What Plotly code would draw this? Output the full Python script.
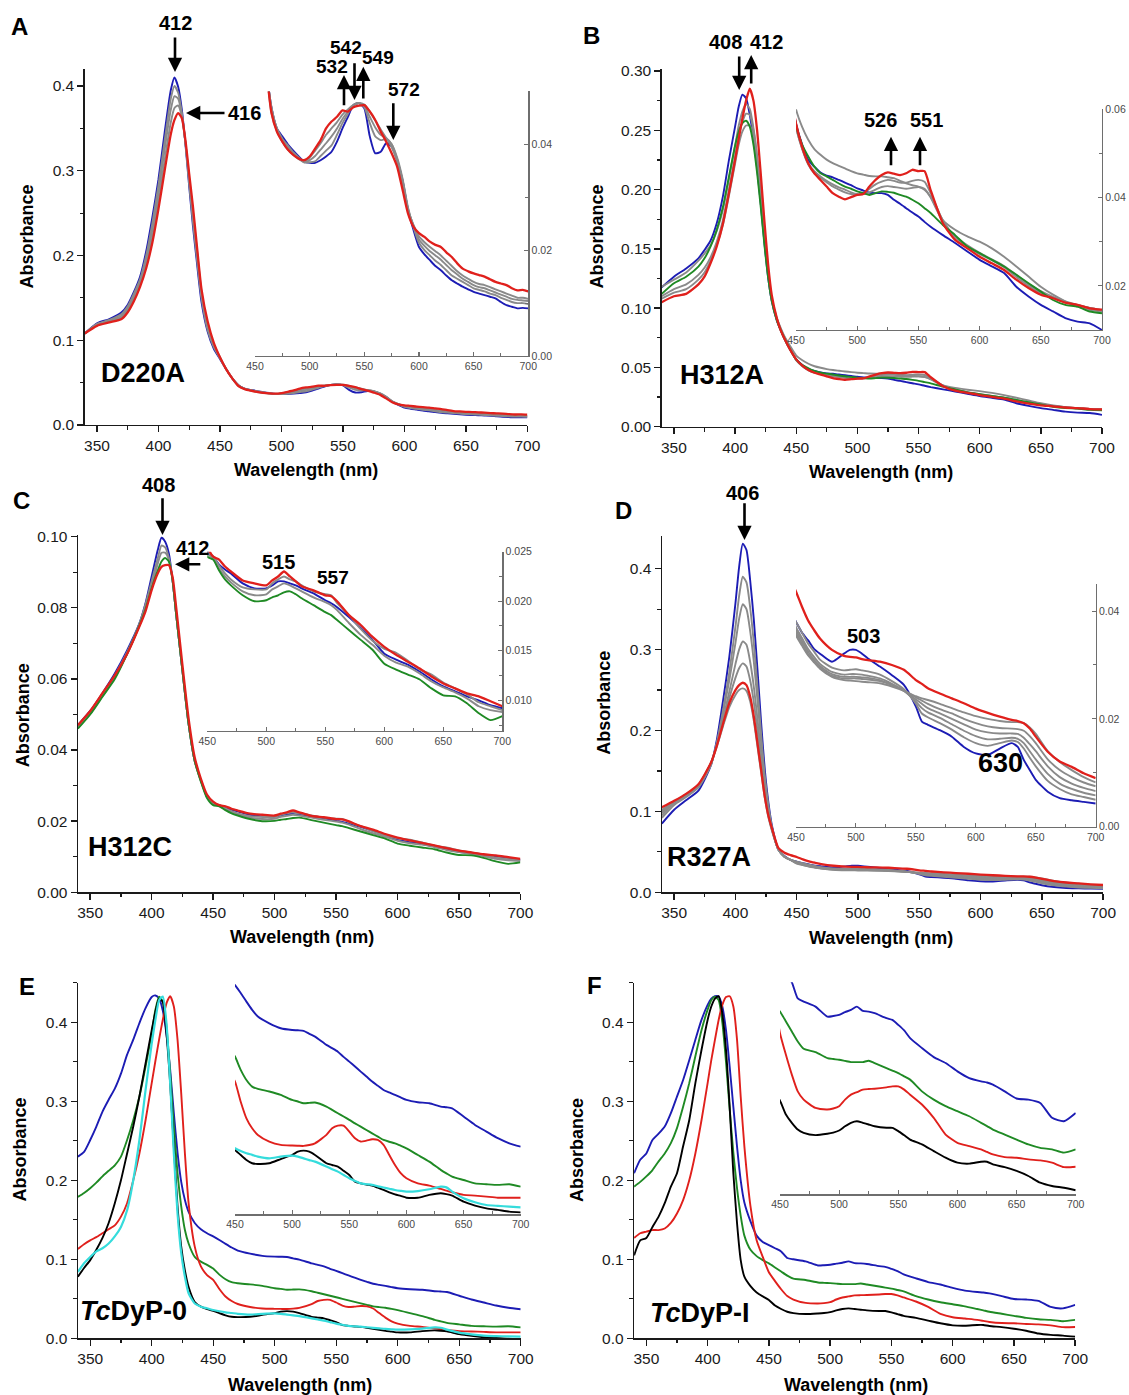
import plotly.graph_objects as go

W, H = 1129, 1395
FONT = "Liberation Sans, Arial, Helvetica, sans-serif"
BLUE = "#1c1cb4"
RED = "#e0201c"
GREY = "#8a8a8a"
GREEN = "#1f8a24"
CYAN = "#35dcdc"
BLACK = "#000000"

# ---------------- Panel A : D220A ----------------
A_WL = [340, 350, 360, 370, 375, 380, 385, 390, 395, 400, 405, 410, 413, 416, 419, 422, 425, 428, 431, 435, 440, 445, 450,
        455, 460, 465, 470, 475, 480, 485, 490, 495, 500, 505, 510, 515, 520, 525, 530, 535, 540, 545, 550,
        555, 560, 565, 570, 575, 580, 585, 590, 595, 600, 605, 610, 615, 620, 625, 630, 635, 640, 645, 650,
        655, 660, 665, 670, 675, 680, 685, 690, 695, 700]
A_BLUE = [0.108, 0.120, 0.125, 0.133, 0.142, 0.157, 0.175, 0.205, 0.245, 0.290, 0.345, 0.395, 0.410, 0.399, 0.372, 0.330, 0.281, 0.235, 0.195, 0.145, 0.110, 0.090, 0.078,
          0.066, 0.055, 0.047, 0.043, 0.0415, 0.040, 0.0388, 0.0377, 0.0367, 0.0365,
          0.0365, 0.037, 0.0377, 0.0386, 0.0405, 0.043, 0.0452, 0.0474, 0.0478, 0.0468,
          0.0415, 0.0383, 0.0386, 0.0402, 0.0396, 0.037, 0.0332, 0.0276, 0.0238, 0.0206,
          0.0192, 0.0181, 0.017, 0.0162, 0.0152, 0.0143, 0.0137, 0.0131, 0.0126, 0.0121,
          0.0118, 0.0115, 0.0112, 0.0109, 0.0102, 0.0096, 0.0093, 0.009, 0.0091, 0.009]
A_GREY1 = [0.108, 0.119, 0.124, 0.131, 0.140, 0.155, 0.172, 0.200, 0.238, 0.283, 0.335, 0.385, 0.400, 0.392, 0.368, 0.332, 0.285, 0.240, 0.200, 0.150, 0.112, 0.092, 0.079,
           0.066, 0.055, 0.047, 0.043, 0.041, 0.0398, 0.0385, 0.0375, 0.0366, 0.0366,
           0.0368, 0.0378, 0.0388, 0.0398, 0.0418, 0.044, 0.0458, 0.0474, 0.0478, 0.047,
           0.044, 0.0415, 0.0408, 0.041, 0.040, 0.0375, 0.0335, 0.028, 0.0243, 0.0214,
           0.020, 0.019, 0.018, 0.0172, 0.0162, 0.0152, 0.0146, 0.014, 0.0134, 0.0128,
           0.0125, 0.0122, 0.0118, 0.0115, 0.011, 0.0106, 0.0102, 0.010, 0.010, 0.0098]
A_GREY2 = [0.108, 0.119, 0.123, 0.129, 0.138, 0.152, 0.169, 0.195, 0.230, 0.274, 0.325, 0.372, 0.388, 0.385, 0.366, 0.332, 0.288, 0.246, 0.205, 0.153, 0.115, 0.093, 0.079,
           0.066, 0.055, 0.047, 0.043, 0.041, 0.0395, 0.0383, 0.0373, 0.0366, 0.037,
           0.0378, 0.039, 0.0402, 0.0415, 0.043, 0.0448, 0.0462, 0.0474, 0.0478, 0.0472,
           0.0452, 0.0432, 0.0418, 0.0412, 0.040, 0.0372, 0.033, 0.0278, 0.0246, 0.022,
           0.0208, 0.0198, 0.019, 0.0182, 0.0172, 0.0162, 0.0154, 0.0146, 0.014, 0.0134,
           0.013, 0.0128, 0.0124, 0.012, 0.0116, 0.0112, 0.0108, 0.0106, 0.0105, 0.0104]
A_GREY3 = [0.108, 0.118, 0.122, 0.127, 0.136, 0.149, 0.166, 0.190, 0.222, 0.265, 0.312, 0.357, 0.374, 0.377, 0.364, 0.332, 0.290, 0.252, 0.210, 0.157, 0.118, 0.095, 0.080,
           0.066, 0.055, 0.046, 0.0425, 0.0405, 0.039, 0.038, 0.0372, 0.0368, 0.0375,
           0.0388, 0.0402, 0.0418, 0.043, 0.0442, 0.0456, 0.0466, 0.0474, 0.0478, 0.0475,
           0.0462, 0.0445, 0.0428, 0.0412, 0.0395, 0.0368, 0.0325, 0.0275, 0.0248, 0.0226,
           0.0215, 0.0206, 0.0198, 0.019, 0.018, 0.017, 0.016, 0.0152, 0.0146, 0.014,
           0.0136, 0.0134, 0.013, 0.0126, 0.0122, 0.0118, 0.0114, 0.011, 0.011, 0.0108]
A_RED = [0.108, 0.117, 0.121, 0.125, 0.133, 0.146, 0.163, 0.185, 0.215, 0.255, 0.300, 0.343, 0.360, 0.368, 0.362, 0.335, 0.296, 0.258, 0.215, 0.160, 0.122, 0.097, 0.080,
         0.066, 0.055, 0.046, 0.0424, 0.0405, 0.039, 0.038, 0.0373, 0.037, 0.0377,
         0.0392, 0.0408, 0.043, 0.0443, 0.0452, 0.0464, 0.0462, 0.047, 0.0473, 0.0474,
         0.0462, 0.0446, 0.0424, 0.0405, 0.0383, 0.0358, 0.0314, 0.0269, 0.0244, 0.0232,
         0.0225, 0.0216, 0.021, 0.0206, 0.0196, 0.0187, 0.0175, 0.0165, 0.016, 0.0156,
         0.0153, 0.015, 0.0145, 0.014, 0.0137, 0.0134, 0.0128, 0.0124, 0.0125, 0.0122]

# ---------------- Panel B : H312A ----------------
B_WL = [340, 350, 360, 370, 375, 380, 385, 390, 395, 400, 403, 406, 409, 412, 415, 418, 421, 424, 427, 430, 434, 437, 440, 445,
        450, 455, 460, 465, 470, 475, 480, 485, 490, 495, 500, 505, 510, 515, 520, 525, 530, 535, 540, 545, 550, 555, 560,
        570, 580, 590, 600, 610, 620, 630, 640, 650, 660, 670, 680, 690, 700]
B_BLUE = [0.1175, 0.1265, 0.1335, 0.142, 0.149, 0.157, 0.1715, 0.194, 0.225, 0.253, 0.270, 0.280, 0.277, 0.263, 0.243, 0.218, 0.188, 0.155, 0.126, 0.106, 0.090, 0.082, 0.075, 0.065,
          0.0568, 0.052, 0.0485, 0.047, 0.0457, 0.045, 0.0446, 0.044, 0.0434, 0.0428, 0.0421, 0.0416, 0.0411, 0.041, 0.041, 0.0406, 0.0395, 0.0386, 0.0376, 0.0366, 0.0357, 0.0345, 0.0334,
          0.0315, 0.0297, 0.0278, 0.0259, 0.0244, 0.0229, 0.0198, 0.0176, 0.0157, 0.0142, 0.0127, 0.0119, 0.0115, 0.0100]
B_GREEN = [0.112, 0.121, 0.1265, 0.135, 0.142, 0.152, 0.166, 0.185, 0.211, 0.237, 0.249, 0.256, 0.258, 0.253, 0.238, 0.214, 0.185, 0.153, 0.126, 0.106, 0.090, 0.082, 0.075, 0.065,
           0.0565, 0.052, 0.0493, 0.047, 0.0455, 0.0448, 0.044, 0.0432, 0.0425, 0.042, 0.0414, 0.041, 0.0406, 0.041, 0.0414, 0.0413, 0.0411, 0.0406, 0.0402, 0.0395, 0.0387, 0.0376, 0.0365,
           0.0338, 0.0315, 0.0289, 0.0274, 0.0259, 0.0244, 0.0225, 0.0206, 0.0187, 0.0168, 0.0157, 0.0153, 0.0142, 0.0138]
B_GREY1 = [0.118, 0.124, 0.130, 0.140, 0.146, 0.153, 0.165, 0.183, 0.209, 0.237, 0.254, 0.266, 0.272, 0.268, 0.252, 0.228, 0.195, 0.160, 0.130, 0.108, 0.092, 0.084, 0.077, 0.068,
           0.0600, 0.0560, 0.0531, 0.0510, 0.0497, 0.0486, 0.0478, 0.0472, 0.0466, 0.046, 0.0455, 0.0452, 0.0449, 0.0448, 0.0448, 0.0446, 0.0444, 0.0438, 0.0432, 0.0428, 0.0425, 0.0418, 0.0402,
           0.0349, 0.0327, 0.0312, 0.030, 0.0285, 0.0266, 0.0244, 0.0221, 0.0198, 0.018, 0.0165, 0.0153, 0.0146, 0.0142]
B_GREY2 = [0.110, 0.116, 0.120, 0.128, 0.134, 0.143, 0.156, 0.174, 0.200, 0.228, 0.245, 0.257, 0.264, 0.263, 0.250, 0.227, 0.195, 0.160, 0.130, 0.108, 0.091, 0.083, 0.076, 0.066,
           0.0560, 0.051, 0.0475, 0.0455, 0.0445, 0.0435, 0.0425, 0.0418, 0.0412, 0.0408, 0.0406, 0.0410, 0.0420, 0.0430, 0.0436, 0.0440, 0.0438, 0.0434, 0.0434, 0.0438, 0.0440, 0.0436, 0.0410,
           0.0348, 0.031, 0.029, 0.0272, 0.0258, 0.0242, 0.022, 0.020, 0.0184, 0.0172, 0.0163, 0.0156, 0.015, 0.0145]
B_GREY3 = [0.108, 0.113, 0.116, 0.124, 0.130, 0.140, 0.153, 0.170, 0.195, 0.222, 0.238, 0.249, 0.254, 0.254, 0.245, 0.224, 0.193, 0.159, 0.130, 0.108, 0.091, 0.083, 0.076, 0.066,
           0.056, 0.0512, 0.0478, 0.046, 0.0448, 0.0438, 0.043, 0.0423, 0.0418, 0.0412, 0.0408, 0.0408, 0.0412, 0.0418, 0.0424, 0.0426, 0.0424, 0.0422, 0.0420, 0.0422, 0.0424, 0.0420, 0.0400,
           0.0345, 0.0312, 0.0292, 0.0275, 0.026, 0.0245, 0.0225, 0.0204, 0.0188, 0.0175, 0.0165, 0.0157, 0.015, 0.0145]
B_RED = [0.105, 0.110, 0.112, 0.120, 0.1265, 0.138, 0.152, 0.171, 0.197, 0.225, 0.243, 0.260, 0.275, 0.285, 0.275, 0.250, 0.213, 0.173, 0.137, 0.111, 0.092, 0.082, 0.075, 0.065,
         0.0568, 0.0515, 0.0478, 0.0455, 0.044, 0.0425, 0.041, 0.0402, 0.0396, 0.0401, 0.0406, 0.0408, 0.0425, 0.044, 0.0451, 0.0457, 0.0454, 0.0451, 0.0455, 0.0463, 0.046, 0.046, 0.0417,
         0.0342, 0.0304, 0.0285, 0.0266, 0.0251, 0.0236, 0.0214, 0.0195, 0.018, 0.0172, 0.0162, 0.0157, 0.0149, 0.0146]

# ---------------- Panel C : H312C ----------------
C_WL = [340, 350, 360, 370, 380, 390, 395, 400, 405, 408, 411, 414, 417, 420, 425, 430, 435, 440, 445, 450,
        455, 460, 465, 470, 480, 490, 500, 505, 510, 515, 520, 525, 530, 540, 550, 555, 560, 570, 580, 590,
        600, 610, 620, 630, 640, 650, 660, 670, 680, 690, 700]
C_BLUE = [0.047, 0.051, 0.056, 0.0615, 0.068, 0.0756, 0.0813, 0.0888, 0.0963, 0.0997, 0.0986, 0.0953, 0.0878, 0.078, 0.0625, 0.0475, 0.037, 0.0316, 0.027, 0.025,
          0.0245, 0.0237, 0.0232, 0.0228, 0.0218, 0.0213, 0.0213, 0.0216, 0.022, 0.022, 0.0218, 0.0216, 0.0213, 0.0208, 0.0201, 0.0198, 0.0194, 0.0184, 0.0173, 0.0161,
          0.0147, 0.0141, 0.0136, 0.0129, 0.0121, 0.0114, 0.0109, 0.0104, 0.010, 0.0095, 0.0092]
C_GREY1 = [0.0465, 0.0505, 0.0555, 0.061, 0.0675, 0.0755, 0.081, 0.0875, 0.094, 0.0975, 0.097, 0.094, 0.0878, 0.078, 0.0625, 0.0475, 0.037, 0.0315, 0.027, 0.025,
           0.0245, 0.0236, 0.0228, 0.0222, 0.0214, 0.0212, 0.0212, 0.0218, 0.0222, 0.0225, 0.0222, 0.022, 0.0216, 0.021, 0.0207, 0.0206, 0.0198, 0.0186, 0.0172, 0.016,
           0.0152, 0.0148, 0.014, 0.0131, 0.0126, 0.0118, 0.0112, 0.0106, 0.0098, 0.0094, 0.009]
C_GREY2 = [0.0462, 0.0502, 0.0552, 0.0605, 0.067, 0.075, 0.080, 0.086, 0.0925, 0.0955, 0.0955, 0.0935, 0.0878, 0.078, 0.0625, 0.0475, 0.037, 0.0313, 0.0268, 0.0248,
           0.0243, 0.0233, 0.0225, 0.0219, 0.021, 0.0206, 0.0207, 0.0212, 0.0215, 0.0218, 0.0216, 0.0213, 0.021, 0.0204, 0.0199, 0.0196, 0.0191, 0.0178, 0.0166, 0.0156,
           0.0145, 0.0138, 0.0134, 0.0127, 0.0119, 0.0113, 0.0108, 0.0102, 0.0094, 0.009, 0.0088]
C_GREEN = [0.046, 0.050, 0.055, 0.060, 0.067, 0.075, 0.0795, 0.0855, 0.0905, 0.093, 0.094, 0.093, 0.0878, 0.078, 0.0625, 0.0475, 0.037, 0.0312, 0.0265, 0.0245,
           0.0242, 0.0231, 0.0222, 0.0216, 0.0206, 0.020, 0.0201, 0.0204, 0.0206, 0.0209, 0.021, 0.0207, 0.0203, 0.0196, 0.0189, 0.0186, 0.0181, 0.0171, 0.0161, 0.0151,
           0.0137, 0.0131, 0.0126, 0.0121, 0.0112, 0.0105, 0.0104, 0.0097, 0.0087, 0.008, 0.0084]
C_RED = [0.047, 0.051, 0.056, 0.061, 0.067, 0.0747, 0.079, 0.085, 0.0897, 0.0915, 0.092, 0.092, 0.0887, 0.080, 0.064, 0.049, 0.038, 0.032, 0.0275, 0.0255,
         0.0245, 0.0242, 0.0235, 0.023, 0.0221, 0.0218, 0.0216, 0.0221, 0.0225, 0.023, 0.0225, 0.022, 0.0215, 0.0211, 0.0206, 0.0205, 0.020, 0.0186, 0.0176, 0.0164,
         0.0154, 0.0146, 0.0139, 0.0132, 0.0124, 0.0117, 0.0112, 0.0107, 0.0104, 0.0099, 0.0094]

# ---------------- Panel D : R327A ----------------
D_WL = [340, 350, 360, 370, 380, 385, 390, 395, 400, 403, 406, 409, 412, 415, 418, 421, 424, 427, 430, 435, 440, 445,
        450, 455, 460, 465, 470, 480, 490, 495, 500, 505, 510, 520, 530, 540, 550, 555, 560, 570, 580, 590,
        600, 610, 620, 630, 635, 640, 645, 650, 660, 670, 680, 690, 700]
D_BLUE = [0.085, 0.102, 0.114, 0.126, 0.157, 0.190, 0.238, 0.291, 0.357, 0.402, 0.431, 0.423, 0.386, 0.337, 0.275, 0.209, 0.151, 0.110, 0.081, 0.053, 0.045, 0.040,
          0.038, 0.036, 0.0346, 0.033, 0.0321, 0.0306, 0.0321, 0.0328, 0.0328, 0.0321, 0.0312, 0.0297, 0.0281, 0.0263, 0.0223, 0.0195, 0.0189, 0.0179, 0.0167, 0.0148,
          0.0136, 0.0133, 0.0145, 0.0155, 0.0148, 0.0124, 0.0105, 0.0087, 0.0065, 0.0053, 0.0049, 0.0046, 0.0043]
D_GREY1 = [0.092, 0.108, 0.118, 0.130, 0.157, 0.186, 0.226, 0.272, 0.328, 0.366, 0.390, 0.383, 0.352, 0.308, 0.254, 0.195, 0.143, 0.106, 0.079, 0.053, 0.044, 0.040,
           0.038, 0.036, 0.034, 0.0325, 0.031, 0.0295, 0.029, 0.0291, 0.0292, 0.029, 0.0288, 0.0282, 0.027, 0.0255, 0.0228, 0.021, 0.0203, 0.0192, 0.018, 0.0166,
           0.0155, 0.015, 0.0155, 0.016, 0.0157, 0.0145, 0.0128, 0.0112, 0.0085, 0.007, 0.006, 0.0055, 0.005]
D_GREY2 = [0.095, 0.110, 0.119, 0.131, 0.158, 0.185, 0.222, 0.262, 0.308, 0.338, 0.356, 0.350, 0.323, 0.285, 0.237, 0.185, 0.137, 0.103, 0.078, 0.053, 0.044, 0.040,
           0.037, 0.035, 0.033, 0.0315, 0.0302, 0.0287, 0.0282, 0.0283, 0.0283, 0.0282, 0.028, 0.0275, 0.0265, 0.0252, 0.0232, 0.022, 0.0212, 0.0202, 0.019, 0.0178,
           0.0168, 0.0162, 0.0163, 0.0165, 0.0163, 0.0155, 0.014, 0.0125, 0.0098, 0.008, 0.007, 0.0063, 0.0058]
D_GREY3 = [0.098, 0.111, 0.120, 0.132, 0.159, 0.184, 0.215, 0.248, 0.282, 0.300, 0.310, 0.306, 0.285, 0.254, 0.214, 0.170, 0.129, 0.099, 0.077, 0.053, 0.044, 0.040,
           0.0365, 0.0345, 0.0325, 0.031, 0.0298, 0.0283, 0.0278, 0.0278, 0.0278, 0.0277, 0.0276, 0.0272, 0.0263, 0.0252, 0.0236, 0.0228, 0.022, 0.021, 0.020, 0.019,
           0.018, 0.0175, 0.0173, 0.0173, 0.0172, 0.0165, 0.0153, 0.014, 0.0112, 0.0092, 0.008, 0.0072, 0.0066]
D_GREY4 = [0.100, 0.112, 0.121, 0.133, 0.160, 0.183, 0.211, 0.240, 0.265, 0.277, 0.283, 0.279, 0.262, 0.235, 0.199, 0.160, 0.123, 0.096, 0.076, 0.053, 0.044, 0.040,
           0.036, 0.034, 0.032, 0.0307, 0.0295, 0.028, 0.0275, 0.0275, 0.0275, 0.0274, 0.0273, 0.027, 0.0263, 0.0253, 0.024, 0.0234, 0.0228, 0.0218, 0.021, 0.020,
           0.0192, 0.0186, 0.0183, 0.0182, 0.0181, 0.0178, 0.0168, 0.0155, 0.0125, 0.0105, 0.0092, 0.0082, 0.0075]
D_GREY5 = [0.102, 0.112, 0.121, 0.133, 0.160, 0.181, 0.206, 0.229, 0.244, 0.250, 0.252, 0.249, 0.236, 0.212, 0.180, 0.148, 0.116, 0.092, 0.075, 0.053, 0.044, 0.040,
           0.0355, 0.0336, 0.0318, 0.0305, 0.0293, 0.0278, 0.0272, 0.0271, 0.027, 0.0269, 0.0268, 0.0266, 0.026, 0.0252, 0.0242, 0.0238, 0.0235, 0.0228, 0.022, 0.0212,
           0.0205, 0.020, 0.0196, 0.0194, 0.0194, 0.0192, 0.0184, 0.0172, 0.014, 0.012, 0.0105, 0.0092, 0.0082]
D_RED = [0.105, 0.113, 0.122, 0.134, 0.160, 0.182, 0.209, 0.234, 0.250, 0.256, 0.259, 0.256, 0.242, 0.217, 0.184, 0.151, 0.118, 0.094, 0.078, 0.055, 0.049, 0.046,
         0.0436, 0.0408, 0.0383, 0.0365, 0.0349, 0.0328, 0.0317, 0.0315, 0.0314, 0.0311, 0.0309, 0.0306, 0.030, 0.0291, 0.0272, 0.0265, 0.0257, 0.0247, 0.0238, 0.0229,
         0.0219, 0.0211, 0.0204, 0.0198, 0.0196, 0.0192, 0.0182, 0.0167, 0.0139, 0.0121, 0.0111, 0.0099, 0.009]

# ---------------- Panel E : TcDyP-0 ----------------
E_WL = [340, 345, 350, 355, 360, 365, 370, 375, 380, 385, 390, 395, 400, 403, 406, 409, 412, 415, 418, 421, 424, 427, 430, 435, 440, 445,
        450, 455, 460, 465, 470, 480, 490, 500, 505, 510, 515, 520, 530, 535, 540, 545, 550, 555, 560, 565, 570, 575, 580, 585,
        590, 595, 600, 610, 620, 630, 635, 640, 650, 660, 670, 680, 690, 700]
E_BLUE = [0.230, 0.236, 0.251, 0.268, 0.287, 0.302, 0.316, 0.335, 0.359, 0.378, 0.399, 0.418, 0.432, 0.434, 0.430, 0.415, 0.385, 0.340, 0.285, 0.235, 0.198, 0.175, 0.160, 0.146, 0.138, 0.133,
          0.129, 0.1245, 0.1196, 0.1149, 0.1111, 0.1072, 0.1044, 0.1034, 0.1032, 0.1029, 0.1012, 0.0996, 0.0949, 0.093, 0.091, 0.088, 0.0853, 0.0825, 0.0796, 0.0768, 0.0739, 0.0715, 0.0691, 0.0677,
          0.0663, 0.0648, 0.0634, 0.0621, 0.0615, 0.0596, 0.0592, 0.0586, 0.0539, 0.0491, 0.0453, 0.0415, 0.0386, 0.0367]
E_GREEN = [0.179, 0.184, 0.190, 0.197, 0.205, 0.212, 0.219, 0.230, 0.251, 0.276, 0.306, 0.344, 0.386, 0.416, 0.4325, 0.426, 0.395, 0.335, 0.268, 0.209, 0.167, 0.137, 0.120, 0.103, 0.097, 0.093,
           0.0882, 0.0806, 0.0748, 0.071, 0.0697, 0.0682, 0.0663, 0.0634, 0.0625, 0.0615, 0.0617, 0.0619, 0.0596, 0.0577, 0.0558, 0.0539, 0.052, 0.050, 0.0481, 0.0462, 0.0443, 0.0424, 0.0405, 0.0395,
           0.0386, 0.0372, 0.0357, 0.0319, 0.0281, 0.0234, 0.0214, 0.0195, 0.0176, 0.0157, 0.0152, 0.0148, 0.0152, 0.0138]
E_RED = [0.113, 0.119, 0.124, 0.128, 0.133, 0.138, 0.143, 0.154, 0.171, 0.200, 0.234, 0.276, 0.323, 0.351, 0.378, 0.403, 0.424, 0.433, 0.420, 0.378, 0.310, 0.234, 0.171, 0.116, 0.091, 0.080,
         0.0739, 0.0624, 0.0529, 0.0472, 0.0434, 0.0396, 0.0377, 0.0373, 0.0372, 0.0371, 0.0376, 0.0386, 0.0434, 0.0472, 0.0487, 0.0487, 0.0453, 0.0415, 0.0396, 0.0401, 0.0409, 0.0405, 0.0377, 0.0319,
         0.0262, 0.0215, 0.0186, 0.0157, 0.0144, 0.0125, 0.0115, 0.0106, 0.0091, 0.0087, 0.0081, 0.0075, 0.0075, 0.0075]
E_BLACK = [0.078, 0.089, 0.099, 0.112, 0.127, 0.146, 0.171, 0.200, 0.234, 0.268, 0.306, 0.348, 0.390, 0.413, 0.430, 0.426, 0.386, 0.323, 0.243, 0.167, 0.116, 0.086, 0.065, 0.046, 0.040, 0.037,
           0.0348, 0.0319, 0.0291, 0.0272, 0.0268, 0.0272, 0.0296, 0.0319, 0.0338, 0.0344, 0.0338, 0.0319, 0.0272, 0.0262, 0.0253, 0.0229, 0.0205, 0.0167, 0.0157, 0.015, 0.0144, 0.0132, 0.0119, 0.0106,
           0.0094, 0.0085, 0.0075, 0.0075, 0.0091, 0.010, 0.0095, 0.0087, 0.0052, 0.003, 0.0014, 0.0005, -0.0005, -0.0009]
E_CYAN = [0.084, 0.095, 0.103, 0.110, 0.114, 0.120, 0.129, 0.141, 0.162, 0.200, 0.251, 0.314, 0.373, 0.403, 0.428, 0.4325, 0.399, 0.323, 0.234, 0.158, 0.108, 0.078, 0.057, 0.044, 0.040, 0.038,
          0.0358, 0.0342, 0.0329, 0.032, 0.031, 0.030, 0.031, 0.0316, 0.031, 0.030, 0.029, 0.0281, 0.0253, 0.0238, 0.0224, 0.0205, 0.0186, 0.0171, 0.0157, 0.0152, 0.0148, 0.014, 0.0133, 0.0126,
          0.0119, 0.0114, 0.011, 0.0113, 0.0123, 0.0138, 0.0134, 0.011, 0.0072, 0.0049, 0.0033, 0.0028, 0.0024, 0.002]

# ---------------- Panel F : TcDyP-I ----------------
F_WL = [340, 345, 350, 355, 360, 365, 370, 375, 380, 385, 390, 395, 400, 403, 406, 409, 412, 415, 418, 421, 424, 427, 430, 435, 440, 445,
        450, 455, 460, 465, 470, 480, 490, 495, 500, 505, 510, 515, 520, 525, 530, 540, 545, 550, 555, 560, 570, 580, 590, 600,
        610, 620, 625, 630, 640, 650, 660, 670, 680, 690, 700]
F_BLUE = [0.209, 0.226, 0.234, 0.251, 0.259, 0.268, 0.285, 0.306, 0.327, 0.352, 0.378, 0.403, 0.422, 0.430, 0.433, 0.4325, 0.420, 0.390, 0.344, 0.293, 0.243, 0.200, 0.172, 0.148, 0.130, 0.122,
          0.118, 0.114, 0.110, 0.1017, 0.100, 0.0974, 0.0922, 0.0925, 0.0931, 0.0945, 0.0957, 0.0974, 0.0952, 0.0948, 0.094, 0.0914, 0.0905, 0.0879, 0.085, 0.081, 0.0759, 0.0712, 0.0681, 0.0638,
          0.0603, 0.0586, 0.058, 0.0569, 0.0534, 0.0497, 0.0491, 0.0474, 0.0397, 0.0379, 0.0422]
F_GREEN = [0.192, 0.198, 0.205, 0.213, 0.224, 0.234, 0.247, 0.266, 0.293, 0.323, 0.357, 0.390, 0.416, 0.428, 0.4325, 0.428, 0.400, 0.350, 0.290, 0.235, 0.190, 0.155, 0.130, 0.112, 0.104, 0.099,
           0.0948, 0.0897, 0.0845, 0.0793, 0.0755, 0.0738, 0.0707, 0.0702, 0.0698, 0.0692, 0.0686, 0.0686, 0.0686, 0.0693, 0.0681, 0.0655, 0.0642, 0.0629, 0.0612, 0.0595, 0.0534, 0.0491, 0.0457, 0.0431,
           0.0405, 0.0371, 0.0354, 0.0336, 0.031, 0.0284, 0.0259, 0.0241, 0.0233, 0.0216, 0.0233]
F_RED = [0.127, 0.133, 0.135, 0.137, 0.137, 0.139, 0.146, 0.158, 0.175, 0.200, 0.234, 0.276, 0.323, 0.352, 0.378, 0.403, 0.422, 0.432, 0.433, 0.420, 0.378, 0.306, 0.243, 0.167, 0.124, 0.103,
         0.0836, 0.0724, 0.0621, 0.0534, 0.0491, 0.0448, 0.044, 0.0445, 0.0457, 0.0491, 0.0517, 0.053, 0.0543, 0.0546, 0.0548, 0.0555, 0.056, 0.056, 0.0543, 0.0517, 0.0466, 0.0397, 0.031, 0.0267,
         0.025, 0.0233, 0.022, 0.0207, 0.0193, 0.019, 0.0181, 0.0176, 0.0164, 0.0141, 0.0143]
F_BLACK = [0.105, 0.124, 0.127, 0.141, 0.154, 0.171, 0.192, 0.209, 0.243, 0.276, 0.323, 0.365, 0.403, 0.420, 0.430, 0.433, 0.411, 0.365, 0.293, 0.209, 0.146, 0.099, 0.078, 0.066, 0.058, 0.053,
           0.0486, 0.0414, 0.0371, 0.0336, 0.0319, 0.0307, 0.0314, 0.032, 0.0331, 0.0353, 0.0371, 0.0379, 0.0371, 0.0362, 0.0353, 0.0345, 0.0345, 0.0328, 0.0306, 0.0284, 0.0259, 0.0224, 0.019, 0.0164,
           0.0159, 0.0169, 0.0169, 0.0155, 0.0141, 0.0121, 0.0095, 0.006, 0.0043, 0.0034, 0.0021]

# ------------------------------------------------------------------
fig = go.Figure()


def ref(kind, n):
    return kind + ("" if n == 1 else str(n))


def axkey(kind, n):
    return kind + ("axis" if n == 1 else "axis%d" % n)


def dom_x(a, b):
    return [a / W, b / W]


def dom_y(top, bottom):
    return [1 - bottom / H, 1 - top / H]


axes = {}
MAIN_TICKFONT = dict(family=FONT, size=15.5, color="#1a1a1a")
INSET_TICKFONT = dict(family=FONT, size=10.5, color="#4a4a4a")


def main_axes(n, xpx, ypx, yrange, dtick, mdtick, fmt):
    common = dict(showline=True, linecolor="#1a1a1a", linewidth=1.4, ticks="outside", ticklen=6,
                  tickwidth=1.4, tickcolor="#1a1a1a", showgrid=False, zeroline=False,
                  tickfont=MAIN_TICKFONT, automargin=False)
    axes[axkey("x", n)] = dict(domain=dom_x(*xpx), range=[340, 700], anchor=ref("y", n),
                               tick0=350, dtick=50,
                               minor=dict(ticks="outside", ticklen=3.5, tickwidth=1.2, tickcolor="#1a1a1a",
                                          tick0=350, dtick=25, showgrid=False), **common)
    axes[axkey("y", n)] = dict(domain=dom_y(*ypx), range=yrange, anchor=ref("x", n),
                               tick0=0, dtick=dtick, tickformat=fmt,
                               minor=dict(ticks="outside", ticklen=3.5, tickwidth=1.2, tickcolor="#1a1a1a",
                                          tick0=0, dtick=mdtick, showgrid=False), **common)


def inset_axes(n, xpx, ypx, yrange, showy, dtick=None, mdtick=None, fmt=None):
    axes[axkey("x", n)] = dict(domain=dom_x(*xpx), range=[450, 700], anchor=ref("y", n),
                               showline=True, linecolor="#6e6e6e", linewidth=1.2, ticks="inside",
                               ticklen=4, tickwidth=1.1, tickcolor="#6e6e6e", tick0=450, dtick=50,
                               minor=dict(ticks="inside", ticklen=3, tickwidth=1, tickcolor="#6e6e6e",
                                          tick0=450, dtick=25, showgrid=False),
                               showgrid=False, zeroline=False, tickfont=INSET_TICKFONT, automargin=False)
    y = dict(domain=dom_y(*ypx), range=yrange, anchor=ref("x", n), side="right",
             showgrid=False, zeroline=False, automargin=False)
    if showy:
        y.update(showline=True, linecolor="#6e6e6e", linewidth=1.2, ticks="inside", ticklen=4,
                 tickwidth=1.1, tickcolor="#6e6e6e", tick0=0, dtick=dtick, tickformat=fmt,
                 minor=dict(ticks="inside", ticklen=3, tickwidth=1, tickcolor="#6e6e6e",
                            tick0=0, dtick=mdtick, showgrid=False),
                 tickfont=INSET_TICKFONT)
    else:
        y.update(visible=False)
    axes[axkey("y", n)] = y


main_axes(1, (84.7, 527.4), (69.05, 425.0), [0, 0.42], 0.1, 0.05, ".1f")
inset_axes(2, (255.0, 528.3), (91.4, 356.0), [0, 0.05], True, 0.02, 0.01, ".2f")
main_axes(3, (661.7, 1102.0), (68.6, 426.7), [0, 0.302], 0.05, 0.025, ".2f")
inset_axes(4, (796.0, 1102.0), (109.3, 330.0), [0.01, 0.06], True, 0.02, 0.01, ".2f")
main_axes(5, (77.9, 520.4), (534.9, 892.3), [0, 0.1005], 0.02, 0.01, ".2f")
inset_axes(6, (207.3, 502.3), (551.7, 730.7), [0.00693, 0.025], True, 0.005, 0.0025, ".3f")
main_axes(7, (661.9, 1103.1), (536.3, 892.3), [0, 0.44], 0.1, 0.05, ".1f")
inset_axes(8, (796.0, 1095.7), (584.1, 826.7), [0, 0.045], True, 0.02, 0.01, ".2f")
main_axes(9, (77.9, 520.7), (982.8, 1338.3), [0, 0.45], 0.1, 0.05, ".1f")
inset_axes(10, (235.0, 520.7), (981.7, 1214.3), [-0.002, 0.131], False)
main_axes(11, (634.1, 1075.2), (982.8, 1338.3), [0, 0.45], 0.1, 0.05, ".1f")
inset_axes(12, (780.0, 1075.7), (982.3, 1194.3), [0, 0.11], False)


def add_panel(n_main, n_inset, wl, series):
    for ys, color, w in series:
        assert len(ys) == len(wl), (len(ys), len(wl))
        for n in (n_main, n_inset):
            fig.add_trace(go.Scatter(
                x=wl, y=ys, mode="lines",
                line=dict(color=color, width=w, shape="spline", smoothing=0.6),
                xaxis=ref("x", n), yaxis=ref("y", n), showlegend=False, hoverinfo="skip"))


LW = 1.9
LR = 2.3
add_panel(1, 2, A_WL, [(A_BLUE, BLUE, LW), (A_GREY1, GREY, LW), (A_GREY2, GREY, LW),
                       (A_GREY3, GREY, LW), (A_RED, RED, LR)])
add_panel(3, 4, B_WL, [(B_BLUE, BLUE, LW), (B_GREY1, GREY, LW), (B_GREY2, GREY, LW),
                       (B_GREY3, GREY, LW), (B_GREEN, GREEN, LW), (B_RED, RED, LR)])
add_panel(5, 6, C_WL, [(C_BLUE, BLUE, LW), (C_GREY1, GREY, LW), (C_GREY2, GREY, LW),
                       (C_GREEN, GREEN, LW), (C_RED, RED, LR)])
add_panel(7, 8, D_WL, [(D_BLUE, BLUE, LW), (D_GREY1, GREY, LW), (D_GREY2, GREY, LW),
                       (D_GREY3, GREY, LW), (D_GREY4, GREY, LW), (D_GREY5, GREY, LW),
                       (D_RED, RED, LR)])
add_panel(9, 10, E_WL, [(E_BLUE, BLUE, LW), (E_GREEN, GREEN, LW), (E_RED, RED, LW),
                        (E_BLACK, BLACK, LW), (E_CYAN, CYAN, 2.2)])
add_panel(11, 12, F_WL, [(F_BLUE, BLUE, LW), (F_GREEN, GREEN, LW), (F_RED, RED, LW),
                         (F_BLACK, BLACK, LW)])


def text(x, y, s, size, bold=True, angle=0, color="black"):
    fig.add_annotation(x=x / W, y=1 - y / H, xref="paper", yref="paper",
                       text=("<b>%s</b>" % s) if bold else s, showarrow=False,
                       font=dict(family=FONT, size=size, color=color),
                       xanchor="center", yanchor="middle", textangle=angle)


def arrow(x0, y0, x1, y1):
    # tail (x0, y0) -> head (x1, y1), page pixels
    fig.add_annotation(x=x1 / W, y=1 - y1 / H, xref="paper", yref="paper",
                       ax=x0 - x1, ay=y0 - y1, axref="pixel", ayref="pixel",
                       text="", showarrow=True, arrowhead=2, arrowsize=1.1,
                       arrowwidth=2.6, arrowcolor="black", standoff=0)


# panel letters
for lx, ly, s in [(19.7, 26.7, "A"), (591.3, 35, "B"), (21.4, 500, "C"),
                  (623.4, 510, "D"), (26.8, 986.7, "E"), (594, 985, "F")]:
    text(lx, ly, s, 24)

# axis titles
for cx, cy in [(26.8, 236.7), (596.7, 236.7), (23.2, 715), (603.8, 703), (19.6, 1150), (577, 1150)]:
    text(cx, cy, "Absorbance", 18, angle=-90)
for cx, cy in [(306, 470), (881, 472), (302, 937), (881, 938), (300, 1385), (856, 1385)]:
    text(cx, cy, "Wavelength (nm)", 18)

# sample names
text(143.2, 373, "D220A", 27)
text(721.9, 375, "H312A", 27)
text(130, 846.7, "H312C", 27)
text(708.9, 856.7, "R327A", 27)
text(133.6, 1310.8, "<i>Tc</i>DyP-0", 27)
text(699.7, 1313, "<i>Tc</i>DyP-I", 27)

# Panel A annotations
text(175, 23, "412", 20)
arrow(175, 36, 175, 72)
text(244.5, 112.7, "416", 20)
arrow(226, 113, 186, 113)
text(331.6, 66, "532", 19)
arrow(344, 106.7, 344, 75)
text(346, 47.5, "542", 19)
arrow(354.5, 61.7, 354.5, 100)
text(378, 57.5, "549", 19)
arrow(363.3, 100, 363.3, 66.7)
text(404, 89.5, "572", 19)
arrow(393.3, 101.7, 393.3, 140)

# Panel B annotations
text(725.5, 41.7, "408", 20)
text(766.3, 41.7, "412", 20)
arrow(739.2, 55, 739.2, 90)
arrow(751.2, 85, 751.2, 55)
text(880, 120, "526", 20)
text(926.7, 120, "551", 20)
arrow(891, 166.7, 891, 136.7)
arrow(920, 166.7, 920, 136.7)

# Panel C annotations
text(158, 485, "408", 20)
arrow(162.5, 496.7, 162.5, 535)
text(192.9, 547.5, "412", 20)
arrow(201.8, 564.3, 175, 564.3)
text(278.3, 562, "515", 20)
text(332.5, 577.5, "557", 19)

# Panel D annotations
text(742.7, 492.5, "406", 20)
arrow(744.5, 501.7, 744.5, 540)
text(863.7, 635.8, "503", 20)
text(1000.8, 763, "630", 27)

fig.update_layout(
    width=W, height=H,
    margin=dict(l=0, r=0, t=0, b=0, pad=0),
    paper_bgcolor="white",
    plot_bgcolor="rgba(0,0,0,0)",
    template="none",
    showlegend=False,
    **axes,
)

fig.write_html("out.html", config={"displayModeBar": False, "staticPlot": True})
